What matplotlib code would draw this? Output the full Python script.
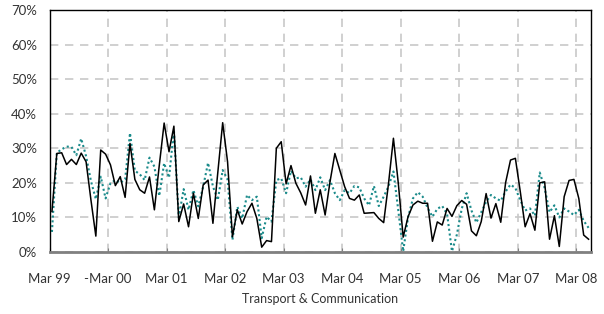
import matplotlib.pyplot as plt
import numpy as np
from matplotlib.ticker import FuncFormatter

# monthly values (%), Mar 99 onwards
transport = [11.7, 28.5, 28.7, 25.3, 26.8, 25.3, 28.6, 26.1, 15.0, 4.6,
             29.5, 28.3, 25.2, 19.2, 21.8, 15.8, 31.4, 21.0, 18.0, 17.0,
             21.7, 12.2, 25.0, 37.3, 29.0, 36.4, 8.8, 13.9, 7.3, 17.0,
             9.7, 19.4, 20.8, 8.3, 23.0, 37.4, 26.1, 4.4, 12.2, 8.1,
             11.7, 14.1, 9.7, 1.4, 3.3, 3.0, 30.0, 31.9, 19.7, 25.0,
             19.9, 17.1, 13.6, 22.0, 11.2, 18.0, 10.7, 20.3, 28.5, 23.7,
             18.9, 15.5, 15.0, 16.5, 11.2, 11.3, 11.4, 9.7, 8.5, 19.9,
             32.9, 19.9, 4.3, 10.2, 13.6, 14.7, 14.1, 14.1, 3.1, 8.7,
             7.8, 12.6, 10.3, 13.4, 14.9, 13.8, 6.1, 4.7, 8.8, 16.9,
             9.8, 14.0, 8.6, 20.1, 26.6, 27.1, 17.5, 7.3, 11.1, 6.3,
             20.0, 20.3, 3.7, 10.5, 1.6, 16.0, 20.7, 21.0, 15.5, 4.9,
             3.7]

comparison = [5.8, 28.7, 29.7, 30.5, 30.4, 28.0, 32.8, 27.7, 20.5, 15.3,
              21.8, 15.5, 19.9, 20.8, 20.0, 21.0, 34.4, 23.5, 22.5, 20.8,
              27.3, 24.7, 16.2, 25.7, 21.5, 35.3, 10.0, 18.2, 12.2, 17.9,
              13.2, 18.9, 25.8, 19.0, 15.0, 23.7, 21.0, 3.5, 13.1, 9.7,
              16.5, 15.0, 16.0, 4.0, 10.2, 8.8, 20.8, 21.3, 17.0, 23.5,
              21.3, 21.6, 18.9, 21.0, 17.9, 21.6, 17.9, 20.8, 17.0, 15.0,
              17.9, 17.0, 19.1, 18.7, 15.5, 13.5, 19.1, 13.3, 16.0, 19.0,
              23.3, 12.0, 0.2, 10.0, 15.5, 17.3, 16.0, 12.8, 10.2, 12.5,
              13.3, 11.0, 0.2, 5.0, 12.5, 17.0, 12.0, 8.5, 11.5, 14.5,
              16.5, 15.5, 14.8, 17.5, 19.5, 18.5, 15.0, 12.0, 12.6, 10.5,
              23.0, 18.5, 11.5, 13.5, 10.0, 12.6, 11.7, 10.7, 12.2, 9.0,
              7.0]

tick_labels = ['Mar 99', '-Mar 00', 'Mar 01', 'Mar 02', 'Mar 03', 'Mar 04',
               'Mar 05', 'Mar 06', 'Mar 07', 'Mar 08']

plt.rcParams['font.family'] = ['Lato', 'DejaVu Sans']
txt = '#333333'

fig = plt.figure(figsize=(6.04, 3.14), dpi=100)
ax = fig.add_axes([49.5/604, 1 - 252/314, (591 - 49.5)/604, (252 - 10)/314])

x = np.arange(len(transport)) + 0.5
ax.plot(x, np.array(transport) / 100, color='black', lw=1.1, zorder=3)
ax.plot(x, np.array(comparison) / 100, color='#1b8b8b', lw=1.5,
        linestyle=(0, (1, 1.3)), zorder=2)

ax.set_xlim(0, 111)
ax.set_ylim(0, 0.7)
ax.set_yticks(np.arange(0, 0.71, 0.1))
ax.yaxis.set_major_formatter(FuncFormatter(lambda v, p: f'{v*100:.0f}%'))
ax.set_xticks(np.arange(len(tick_labels)) * 12)
ax.set_xticklabels(tick_labels)

ax.grid(True, color='#c8c8c8', linestyle=(0, (5, 4)), lw=1.2)
ax.set_axisbelow(True)

for s in ['left', 'right', 'top']:
    ax.spines[s].set_color('black')
    ax.spines[s].set_linewidth(1.0)
ax.spines['bottom'].set_color('#808080')
ax.spines['bottom'].set_linewidth(2)

ax.tick_params(axis='y', length=0, pad=9, labelsize=9.5, labelcolor=txt)
ax.tick_params(axis='x', direction='in', length=3, color='#808080',
               pad=15, labelsize=9.5, labelcolor=txt)

ax.set_xlabel('Transport & Communication', fontsize=9, color=txt, labelpad=6)

fig.savefig('out.png', dpi=100)
